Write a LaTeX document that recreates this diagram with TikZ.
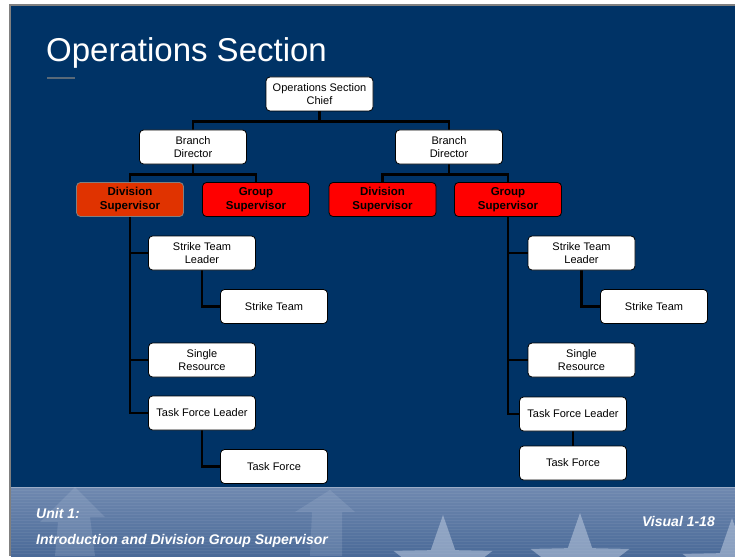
\documentclass[tikz,border=0pt]{standalone}
\usepackage{fontspec}
\setmainfont{Liberation Sans}
\usetikzlibrary{shapes.geometric}
\pgfdeclarelayer{background}
\pgfsetlayers{background,main}
\definecolor{navy}{HTML}{003366}
\definecolor{supred}{HTML}{FF0000}
\definecolor{divorange}{HTML}{E03300}
\definecolor{foottop}{HTML}{7089B0}
\definecolor{footbot}{HTML}{4A6A98}
\definecolor{starcol}{HTML}{B4C3DA}
\begin{document}
\begin{tikzpicture}[x=1pt,y=-1pt,
  box/.style={draw=black, line width=0.8pt, fill=white, rounded corners=4pt,
    minimum width=107pt, minimum height=34pt, inner sep=0pt, align=center,
    text=black, font=\fontsize{11}{13.5}\selectfont},
  redbox/.style={box, fill=supred, font=\fontsize{11.5}{14}\selectfont\bfseries},
  link/.style={draw=black, line width=2.4pt},
  foottext/.style={text=white, inner sep=0pt, font=\fontsize{14}{16}\selectfont\bfseries\itshape},
  starshape/.style={star, star points=5, star point ratio=2.5, fill=starcol, draw=none, inner sep=0pt}
]
\useasboundingbox (0,0) rectangle (735,556);
\begin{pgfonlayer}{background}
\fill[white] (0,0) rectangle (735,556);
\fill[navy] (10,5) rectangle (735,556);
\draw[gray, line width=2pt] (10,556) -- (10,5) -- (735,5);

% footer band
\shade[top color=foottop, bottom color=footbot] (11,487) rectangle (735,556);
\foreach \yy in {490,493,...,555} {
  \draw[white, opacity=0.06, line width=1pt] (11,\yy) -- (735,\yy);
}
\fill[starcol, opacity=0.22] (55,556) -- (58,522) -- (40,522) -- (75,487) -- (105,517) -- (90,517) -- (95,556) -- cycle;
\fill[starcol, opacity=0.2] (310,556) -- (312,512) -- (295,512) -- (330,490) -- (355,512) -- (342,512) -- (342,556) -- cycle;
\node[starshape, minimum size=104pt, opacity=0.6] (s1) at (443,567) {};
\node[starshape, minimum size=104pt, opacity=0.6] (s2) at (580,565) {};
\node[starshape, minimum size=104pt, opacity=0.6] (s3) at (732,570) {};
\draw[white, opacity=0.3, line width=1pt] (11,487.5) -- (735,487.5);
\fill[white] (0,487) rectangle (9,556);
\draw[gray, line width=2pt] (10,487) -- (10,556);
\end{pgfonlayer}

% title
\node[anchor=base west, text=white, inner sep=0pt, font=\fontsize{33}{36}\selectfont] (title) at (46,62) {Operations Section};
\draw[gray!70!navy, line width=1.2pt] (47,78) -- (75,78);

% boxes
\node[box] (chief) at (319.5,94) {Operations Section\\Chief};
\node[box] (lb) at (193,147) {Branch\\Director};
\node[box] (rb) at (449,147) {Branch\\Director};
\node[redbox, fill=divorange, draw=gray] (ldiv) at (130,199.5) {Division\\Supervisor};
\node[redbox] (lgrp) at (256,199.5) {Group\\Supervisor};
\node[redbox] (rdiv) at (382.5,199.5) {Division\\Supervisor};
\node[redbox] (rgrp) at (508,199.5) {Group\\Supervisor};

\node[box] (lstl) at (202,253) {Strike Team\\Leader};
\node[box] (lst) at (274,306.5) {Strike Team};
\node[box] (lsr) at (202,360) {Single\\Resource};
\node[box] (ltfl) at (202,413) {Task Force Leader};
\node[box] (ltf) at (274,466.5) {Task Force};

\node[box] (rstl) at (581.5,253) {Strike Team\\Leader};
\node[box] (rst) at (654,306.5) {Strike Team};
\node[box] (rsr) at (581.5,360) {Single\\Resource};
\node[box] (rtfl) at (573,414) {Task Force Leader};
\node[box] (rtf) at (573,463) {Task Force};

% connectors
\begin{pgfonlayer}{background}
\draw[link] (chief.south) -- ++(0,10) -| (lb.north);
\draw[link] (chief.south) -- ++(0,10) -| (rb.north);
\draw[link] (lb.south) -- ++(0,10) -| (ldiv.north);
\draw[link] (lb.south) -- ++(0,10) -| (lgrp.north);
\draw[link] (rb.south) -- ++(0,10) -| (rdiv.north);
\draw[link] (rb.south) -- ++(0,10) -| (rgrp.north);

\draw[link] (ldiv.south) |- (lstl.west);
\draw[link] (ldiv.south) |- (lsr.west);
\draw[link] (ldiv.south) |- (ltfl.west);
\draw[link] (lstl.south) |- (lst.west);
\draw[link] (ltfl.south) |- (ltf.west);

\draw[link] (rgrp.south) |- (rstl.west);
\draw[link] (rgrp.south) |- (rsr.west);
\draw[link] (rgrp.south) |- (rtfl.west);
\draw[link] (rstl.south) |- (rst.west);
\draw[link] (rtfl.south) -- (rtf.north);
\end{pgfonlayer}

% footer texts
\node[foottext, anchor=base west] (unit) at (36,518) {Unit 1:};
\node[foottext, anchor=base west] (intro) at (36,544) {Introduction and Division Group Supervisor};
\node[foottext, anchor=base east] (visual) at (715,526) {Visual 1-18};
\end{tikzpicture}
\end{document}
